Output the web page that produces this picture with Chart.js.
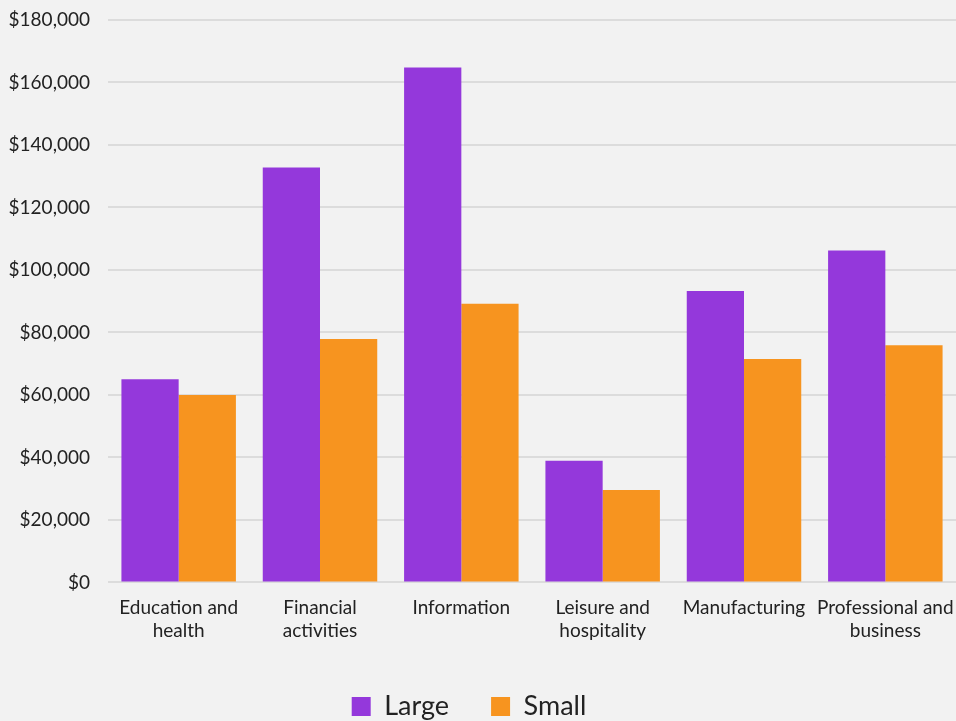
<!DOCTYPE html>
<html>
<head>
<meta charset="utf-8">
<script src="https://cdn.jsdelivr.net/npm/chart.js@4"></script>
<style>
  html, body { margin: 0; padding: 0; background: #f2f2f2; }
  #wrap { width: 956px; height: 721px; }
</style>
</head>
<body>
<div id="wrap"><canvas id="salaryChart"></canvas></div>
<script>
// average salary by industry, large vs small firms
const industries = [
    ['Education and', 'health'],
    ['Financial', 'activities'],
    'Information',
    ['Leisure and', 'hospitality'],
    'Manufacturing',
    ['Professional and', 'business']
];
const largeFirms = [65000, 132800, 164800, 38900, 93300, 106200];
const smallFirms = [60000, 77900, 89200, 29600, 71500, 75900];

Chart.defaults.font.family = 'Lato, sans-serif';
Chart.defaults.color = '#222';

const ctx = document.getElementById('salaryChart');

new Chart(ctx, {
    type: 'bar',
    data: {
        labels: industries,
        datasets: [{
            label: 'Large',
            data: largeFirms,
            backgroundColor: '#9438db',
            borderWidth: 0
        }, {
            label: 'Small',
            data: smallFirms,
            backgroundColor: '#f7941f',
            borderWidth: 0
        }]
    },
    options: {
        responsive: true,
        maintainAspectRatio: false,
        animation: false,
        layout: { padding: { top: 20, right: 0, bottom: -9, left: -18 } },
        datasets: {
            bar: { categoryPercentage: 0.81, barPercentage: 1.0 }
        },
        plugins: {
            legend: {
                position: 'bottom',
                labels: {
                    font: { size: 27 },
                    boxWidth: 19,
                    boxHeight: 19,
                    padding: 42
                }
            },
            tooltip: { enabled: false }
        },
        scales: {
            x: {
                grid: { display: false, drawTicks: false },
                border: { display: false },
                ticks: { font: { size: 19, lineHeight: 1.2 }, padding: 14, maxRotation: 0, autoSkip: false },
                afterFit: scale => {
                    // let the last label run to the edge instead of shrinking the plot
                    scale.paddingLeft = 0;
                    scale.paddingRight = 0;
                    scale.height -= 5;
                }
            },
            y: {
                min: 0,
                max: 180000,
                grid: { color: '#dcdcdc', lineWidth: 2, drawTicks: false },
                border: { display: false },
                ticks: {
                    stepSize: 20000,
                    padding: 18,
                    font: { size: 19 },
                    callback: v => '$' + v.toLocaleString('en-US')
                },
                afterFit: scale => {
                    scale.width = 126;
                    scale.paddingTop = 0;
                }
            }
        }
    }
});
</script>
</body>
</html>
